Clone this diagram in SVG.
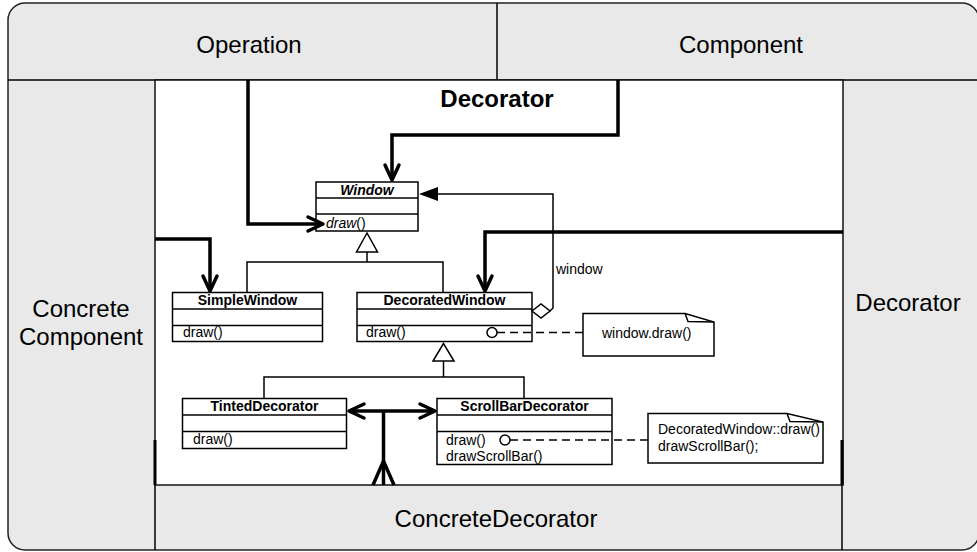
<svg xmlns="http://www.w3.org/2000/svg" width="977" height="552" viewBox="0 0 977 552">
<style>
text{font-family:"Liberation Sans",Arial,Helvetica,sans-serif;fill:#000}
.big{font-size:24px}
.title{font-size:24px;font-weight:bold}
.cname{font-size:14px;font-weight:bold;text-anchor:middle}
.op{font-size:14px}
.frame{fill:#e9e9e9;stroke:#222;stroke-width:1.5}
.panel{fill:#fff;stroke:#111;stroke-width:1.5}
.box{fill:#fff;stroke:#000;stroke-width:1.5}
.ln{fill:none;stroke:#000;stroke-width:1.5}
.dash{fill:none;stroke:#000;stroke-width:1.5;stroke-dasharray:8 5}
.thick{fill:none;stroke:#000;stroke-width:3.5;stroke-linejoin:miter}
.tri{fill:#fff;stroke:#000;stroke-width:1.5}
</style>
<defs>
<marker id="arr" viewBox="-20 -10 22 20" refX="0" refY="0" markerWidth="22" markerHeight="20" markerUnits="userSpaceOnUse" orient="auto-start-reverse" overflow="visible">
<path d="M-15,-7 L0,0 L-15,7" fill="none" stroke="#000" stroke-width="3.5" stroke-linejoin="round" stroke-linecap="round"/>
</marker>
</defs>

<g id="frame">
<rect class="frame" x="8" y="3" width="971" height="547" rx="17"/>
<line class="ln" x1="8" y1="80" x2="977" y2="80" stroke="#222"/>
<line class="ln" x1="497" y1="3" x2="497" y2="80"/>
<rect class="panel" x="155" y="80" width="688" height="405"/>
<line class="ln" x1="155" y1="485" x2="155" y2="550"/>
<line class="ln" x1="842" y1="485" x2="842" y2="550"/>
<line x1="155" y1="440" x2="155" y2="485" stroke="#000" stroke-width="3"/>
<line x1="842" y1="440" x2="842" y2="485" stroke="#000" stroke-width="3"/>
</g>

<g id="labels">
<text class="big" x="249" y="53" text-anchor="middle">Operation</text>
<text class="big" x="741" y="53" text-anchor="middle">Component</text>
<text class="big" x="81" y="317" text-anchor="middle">Concrete</text>
<text class="big" x="81" y="345" text-anchor="middle">Component</text>
<text class="big" x="908" y="311" text-anchor="middle">Decorator</text>
<text class="big" x="496" y="527" text-anchor="middle">ConcreteDecorator</text>
<text class="title" x="497" y="107" text-anchor="middle">Decorator</text>
</g>

<g id="Window">
<rect class="box" x="316" y="182" width="102" height="49"/>
<line class="ln" x1="316" y1="198" x2="418" y2="198"/>
<line class="ln" x1="316" y1="214" x2="418" y2="214"/>
<text class="cname" x="367" y="195" font-style="italic">Window</text>
<text class="op" x="326" y="228"><tspan font-style="italic">draw</tspan>()</text>
</g>

<g id="SimpleWindow">
<rect class="box" x="172.5" y="292.5" width="150" height="49"/>
<line class="ln" x1="172.5" y1="309" x2="322.5" y2="309"/>
<line class="ln" x1="172.5" y1="325.5" x2="322.5" y2="325.5"/>
<text class="cname" x="247.5" y="305">SimpleWindow</text>
<text class="op" x="183" y="337">draw()</text>
</g>

<g id="DecoratedWindow">
<rect class="box" x="357" y="292.5" width="175" height="49"/>
<line class="ln" x1="357" y1="309" x2="532" y2="309"/>
<line class="ln" x1="357" y1="325.5" x2="532" y2="325.5"/>
<text class="cname" x="444.5" y="305">DecoratedWindow</text>
<text class="op" x="366" y="337">draw()</text>
</g>

<g id="note1">
<path class="box" d="M583,313.5 H685 L714,322 V356 H583 Z"/>
<path class="ln" d="M685,313.5 L688,321.5 L714,322"/>
<text class="op" x="602" y="338">window.draw()</text>
</g>

<g id="TintedDecorator">
<rect class="box" x="182.5" y="398.5" width="164" height="50"/>
<line class="ln" x1="182.5" y1="415" x2="346.5" y2="415"/>
<line class="ln" x1="182.5" y1="431.5" x2="346.5" y2="431.5"/>
<text class="cname" x="264.5" y="411">TintedDecorator</text>
<text class="op" x="193" y="444">draw()</text>
</g>

<g id="ScrollBarDecorator">
<rect class="box" x="437" y="398.5" width="175" height="66"/>
<line class="ln" x1="437" y1="415" x2="612" y2="415"/>
<line class="ln" x1="437" y1="431.5" x2="612" y2="431.5"/>
<text class="cname" x="524.5" y="411">ScrollBarDecorator</text>
<text class="op" x="446" y="445">draw()</text>
<text class="op" x="446" y="461">drawScrollBar()</text>
</g>

<g id="note2">
<path class="box" d="M648,413.5 H787 L823,422 V463 H648 Z"/>
<path class="ln" d="M787,413.5 L790,421.5 L823,422"/>
<text class="op" x="658" y="434">DecoratedWindow::draw()</text>
<text class="op" x="658" y="451">drawScrollBar();</text>
</g>

<g id="connectors">
<polygon class="tri" points="367,233 356.5,252 377.5,252"/>
<path class="ln" d="M367,252 V262 M247,292.5 V262 H443 V292.5"/>
<polygon class="tri" points="443.5,343.5 433,361 454,361"/>
<path class="ln" d="M443.5,361 V377 M264,398.5 V377 H524 V398.5"/>
<path class="ln" d="M437,194 H553 V308 L550,311"/>
<polygon points="419,194 438,187 438,201" fill="#000"/>
<polygon points="532,311 541,304 550,311 541,318" fill="#fff" stroke="#000" stroke-width="1.5"/>
<text class="op" x="556" y="274">window</text>
<path class="dash" d="M497,332.5 H583"/>
<circle cx="492" cy="332.5" r="5" fill="#fff" stroke="#000" stroke-width="1.5"/>
<path class="dash" d="M510,440 H648"/>
<circle cx="505" cy="440" r="5" fill="#fff" stroke="#000" stroke-width="1.5"/>
<path class="thick" d="M248,80 V224 H323" marker-end="url(#arr)"/>
<path class="thick" d="M618,80 V135 H392 V180" marker-end="url(#arr)"/>
<path class="thick" d="M155,239 H210 V291" marker-end="url(#arr)"/>
<path class="thick" d="M843,232 H485 V291" marker-end="url(#arr)"/>
<path class="thick" d="M349,411 H435" marker-start="url(#arr)" marker-end="url(#arr)"/>
<path class="thick" d="M383.5,411 V485"/>
<path class="thick" d="M373,485 L383.5,461 L394,485" stroke-linejoin="round"/>
</g>
</svg>
